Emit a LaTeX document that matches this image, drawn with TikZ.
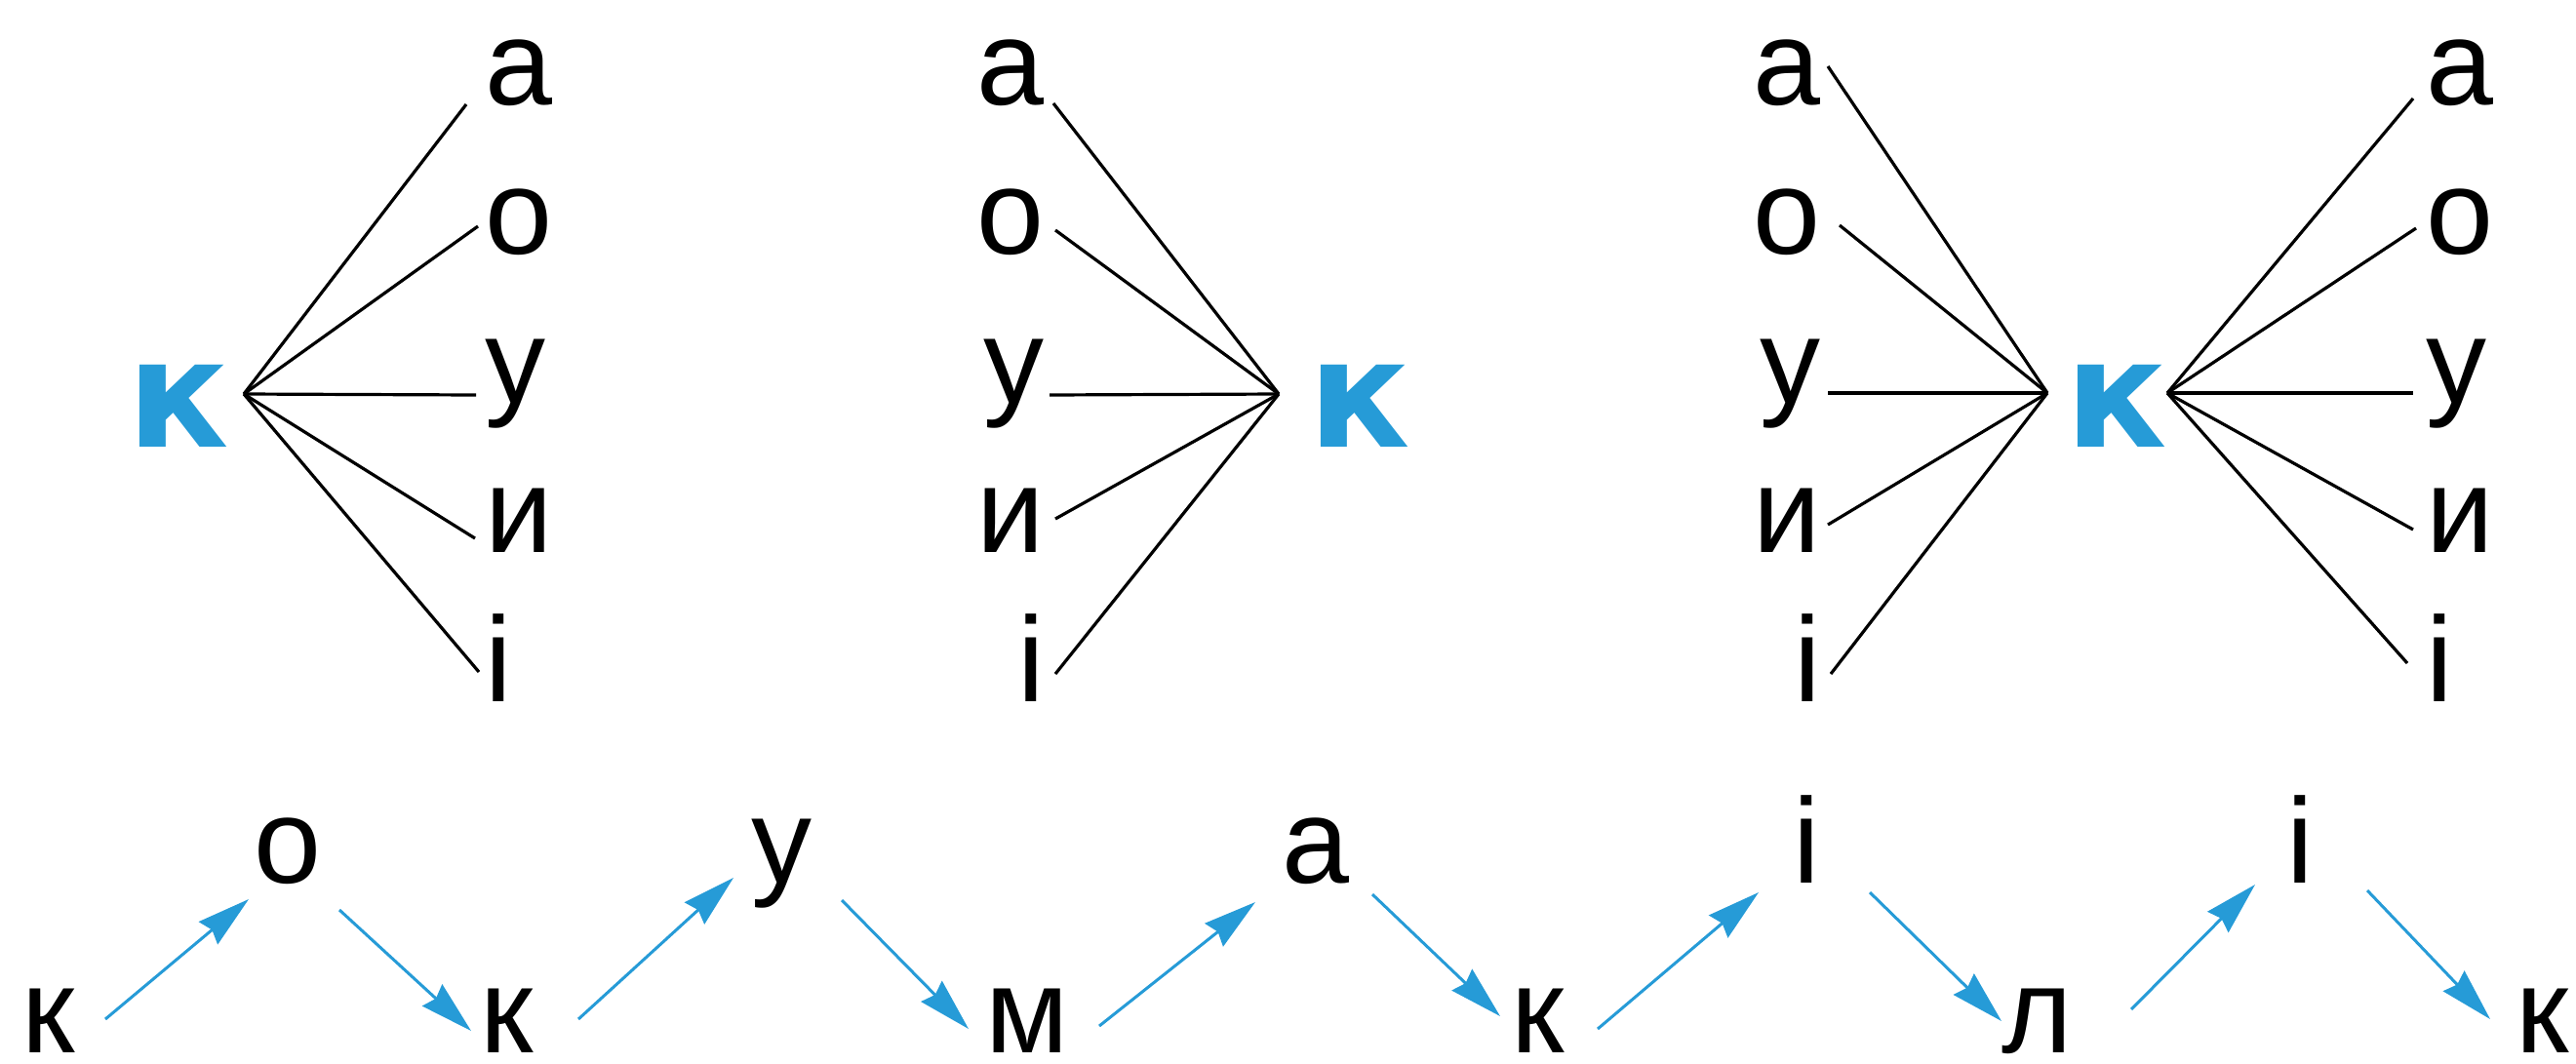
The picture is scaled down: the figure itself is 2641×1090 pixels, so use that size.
\documentclass[tikz,border=0pt]{standalone}
\usepackage{fontspec}
\setmainfont{Liberation Sans}
\newfontfamily\heavyfont[UprightFont={* Bold}]{DejaVu Sans}
\usetikzlibrary{calc,arrows.meta}
\definecolor{kblue}{RGB}{38,155,215}
\begin{document}
\begin{tikzpicture}[x=1pt,y=-1pt,
  letter/.style={inner sep=0pt, font=\fontsize{124}{130}\selectfont},
  bigk/.style={inner sep=0pt, text=kblue, font=\fontsize{154}{160}\heavyfont},
  spoke/.style={line width=3.2pt, draw=black},
  hop/.style={line width=3pt, draw=kblue, -{Stealth[length=54pt,width=30pt,inset=5pt]}}]
\useasboundingbox (0,0) rectangle (2641,1090);

% ---------- panel 1 ----------
\node[bigk, anchor=base] (k1) at (183,458) {к};
\coordinate (p1) at ($(k1.base)+(67,-54)$);
\node[letter, anchor=base west] (a1) at (497,107) {а};
\node[letter, anchor=base west] (o1) at (497,260) {о};
\node[letter, anchor=base west] (u1) at (497,413) {у};
\node[letter, anchor=base west] (y1) at (497,566) {и};
\node[letter, anchor=base west] (i1) at (497,719) {і};
\draw[spoke] (p1) -- ($(a1.base west)+(-19,0)$);
\draw[spoke] (p1) -- ($(o1.base west)+(-7,-28)$);
\draw[spoke] (p1) -- ($(u1.base west)+(-9,-8)$);
\draw[spoke] (p1) -- ($(y1.base west)+(-10,-14)$);
\draw[spoke] (p1) -- ($(i1.base west)+(-6,-30)$);

% ---------- panel 2 ----------
\node[bigk, anchor=base] (k2) at (1394,458) {к};
\coordinate (p2) at ($(k2.base)+(-83,-54)$);
\node[letter, anchor=base east] (a2) at (1071,107) {а};
\node[letter, anchor=base east] (o2) at (1071,260) {о};
\node[letter, anchor=base east] (u2) at (1071,413) {у};
\node[letter, anchor=base east] (y2) at (1071,566) {и};
\node[letter, anchor=base east] (i2) at (1071,719) {і};
\draw[spoke] ($(a2.base east)+(9,-1)$) -- (p2);
\draw[spoke] ($(o2.base east)+(11,-24)$) -- (p2);
\draw[spoke] ($(u2.base east)+(5,-8)$) -- (p2);
\draw[spoke] ($(y2.base east)+(11,-34)$) -- (p2);
\draw[spoke] ($(i2.base east)+(11,-28)$) -- (p2);

% ---------- panel 3 ----------
\node[bigk, anchor=base] (k3) at (2170,458) {к};
\coordinate (p3l) at ($(k3.base)+(-71,-55)$);
\coordinate (p3r) at ($(k3.base)+(52,-55)$);
\node[letter, anchor=base east] (a3) at (1867,107) {а};
\node[letter, anchor=base east] (o3) at (1867,260) {о};
\node[letter, anchor=base east] (u3) at (1867,413) {у};
\node[letter, anchor=base east] (y3) at (1867,566) {и};
\node[letter, anchor=base east] (i3) at (1867,719) {і};
\draw[spoke] ($(a3.base east)+(7,-39)$) -- (p3l);
\draw[spoke] ($(o3.base east)+(19,-29)$) -- (p3l);
\draw[spoke] ($(u3.base east)+(7,-10)$) -- (p3l);
\draw[spoke] ($(y3.base east)+(7,-28)$) -- (p3l);
\draw[spoke] ($(i3.base east)+(10,-28)$) -- (p3l);
\node[letter, anchor=base west] (a4) at (2487,107) {а};
\node[letter, anchor=base west] (o4) at (2487,260) {о};
\node[letter, anchor=base west] (u4) at (2487,413) {у};
\node[letter, anchor=base west] (y4) at (2487,566) {и};
\node[letter, anchor=base west] (i4) at (2487,719) {і};
\draw[spoke] (p3r) -- ($(a4.base west)+(-13,-6)$);
\draw[spoke] (p3r) -- ($(o4.base west)+(-10,-26)$);
\draw[spoke] (p3r) -- ($(u4.base west)+(-13,-10)$);
\draw[spoke] (p3r) -- ($(y4.base west)+(-13,-23)$);
\draw[spoke] (p3r) -- ($(i4.base west)+(-19,-39)$);

% ---------- bottom row ----------
\node[letter, anchor=base] (b1) at (50,1079) {к};
\node[letter, anchor=base] (b2) at (295,905) {о};
\node[letter, anchor=base] (b3) at (520,1079) {к};
\node[letter, anchor=base] (b4) at (801,905) {у};
\node[letter, anchor=base] (b5) at (1053,1079) {м};
\node[letter, anchor=base] (b6) at (1349,905) {а};
\node[letter, anchor=base] (b7) at (1577,1079) {к};
\node[letter, anchor=base] (b8) at (1852,905) {і};
\node[letter, anchor=base] (b9) at (2089,1079) {л};
\node[letter, anchor=base] (b10) at (2358,905) {і};
\node[letter, anchor=base] (b11) at (2607,1079) {к};

\draw[hop] ($(b1.base)+(58,-34)$) -- ($(b2.base)+(-40,17)$);
\draw[hop] ($(b2.base)+(53,28)$) -- ($(b3.base)+(-37,-22)$);
\draw[hop] ($(b3.base)+(73,-34)$) -- ($(b4.base)+(-49,-5)$);
\draw[hop] ($(b4.base)+(62,18)$) -- ($(b5.base)+(-60,-24)$);
\draw[hop] ($(b5.base)+(74,-27)$) -- ($(b6.base)+(-62,20)$);
\draw[hop] ($(b6.base)+(58,12)$) -- ($(b7.base)+(-39,-37)$);
\draw[hop] ($(b7.base)+(61,-24)$) -- ($(b8.base)+(-49,10)$);
\draw[hop] ($(b8.base)+(65,10)$) -- ($(b9.base)+(-37,-32)$);
\draw[hop] ($(b9.base)+(96,-44)$) -- ($(b10.base)+(-46,2)$);
\draw[hop] ($(b10.base)+(69,8)$) -- ($(b11.base)+(-54,-34)$);
\end{tikzpicture}
\end{document}
